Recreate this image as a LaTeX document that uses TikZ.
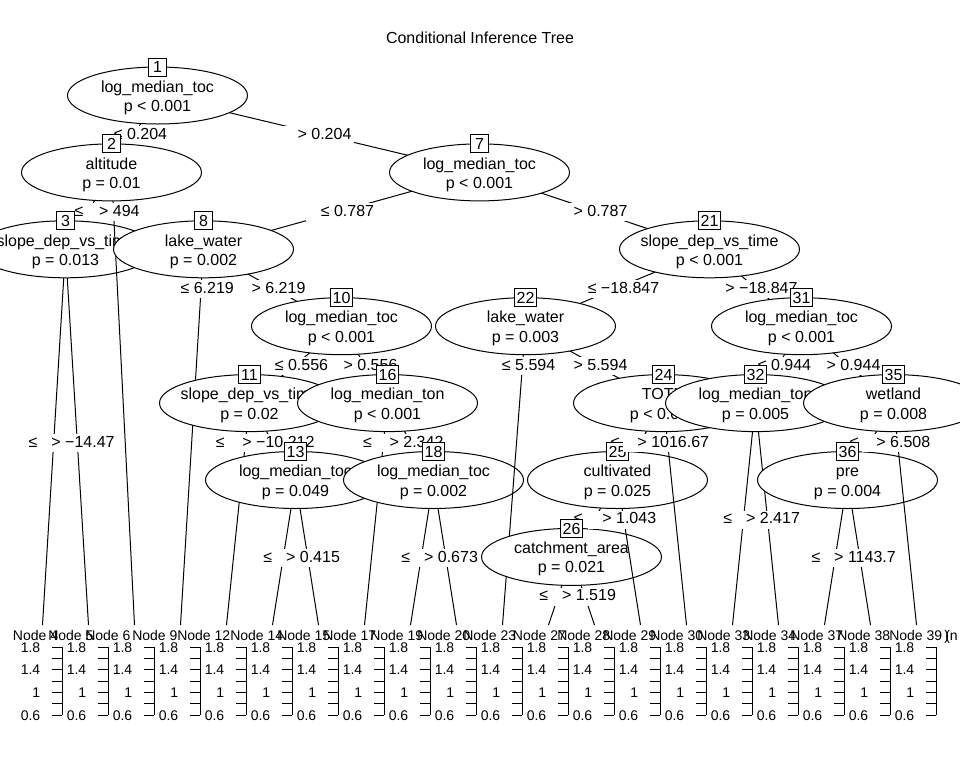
\documentclass[tikz,border=0pt]{standalone}
\usepackage{fontspec}
\setmainfont{Liberation Sans}
\usetikzlibrary{shapes.geometric}

\newcommand\mainsz{\fontsize{12}{14}\selectfont}
\newcommand\termsz{\fontsize{10.5}{12.5}\selectfont}

% inner node: name, x, y, id, split variable, p-value
\newcommand\innernode[6]{%
  \node[ell] (#1) at (#2,#3) {};
  \node[ntext] (#1v) at (#2,#3-3.3) {#5};
  \node[ntext] (#1p) at (#2,#3+16) {#6};
  \node[idbox] (#1id) at (#2,#3-28.5) {#4};
}

% split label on an edge: name, x on the edge, level y, text
\newcommand\edgelab[4]{%
  \node[elab] (#1) at (#2,#3+1.5) {\hspace*{9pt}#4};
}

% terminal panel: node id, slot centre x, heading start x
\newcommand\termpanel[3]{%
  \node[thead] (head#1) at (#3,640) {Node #1};
  \draw[axisline] (#2+19.5,647.2) -- (#2+19.5,715.3);
  \foreach \tk in {0,...,6}{\draw[axisline] (#2+9.5,715.3-11.35*\tk) -- (#2+19.5,715.3-11.35*\tk);}
  \node[tlab] (lo#1) at (#2-2,715.3) {0.6};
  \node[tlab] (mid#1) at (#2-2,692.6) {1};
  \node[tlab] (up#1) at (#2-2,669.9) {1.4};
  \node[tlab] (hi#1) at (#2-2,647.2) {1.8};
}

\begin{document}
\begin{tikzpicture}[x=0.75pt,y=-0.75pt,
  edge/.style={line width=0.75pt},
  ell/.style={draw, fill=white, ellipse, minimum width=135pt, minimum height=42.75pt, inner sep=0pt, line width=0.75pt},
  idbox/.style={draw, fill=white, font=\mainsz, inner xsep=1.9pt, inner ysep=0pt, minimum width=13.5pt, minimum height=13.5pt, text height=8.6pt, text depth=0pt, line width=0.75pt},
  ntext/.style={font=\mainsz, inner sep=0pt, anchor=base},
  elab/.style={fill=white, font=\mainsz, inner xsep=1.9pt, inner ysep=1.2pt, text height=8.6pt, text depth=2.6pt},
  thead/.style={font=\termsz, inner sep=0pt, anchor=base west},
  tlab/.style={font=\termsz, inner sep=0pt, anchor=east, text height=7.5pt, text depth=0pt},
  axisline/.style={line width=0.75pt}
]
\useasboundingbox (0,0) rectangle (960,768);
\fill[white] (0,0) rectangle (960,768);
\clip (0,0) rectangle (960,768);

\node[font=\mainsz, anchor=base] (title) at (480,43.3) {Conditional Inference Tree};

% node centres
\coordinate (c1) at (157.5,95.5);
\coordinate (c2) at (111.5,172.4);
\coordinate (c3) at (65.5,249.3);
\coordinate (c7) at (479.5,172.4);
\coordinate (c8) at (203.5,249.3);
\coordinate (c10) at (341.5,326.2);
\coordinate (c11) at (249.5,403.1);
\coordinate (c13) at (295.5,480);
\coordinate (c16) at (387.5,403.1);
\coordinate (c18) at (433.5,480);
\coordinate (c21) at (709.5,249.3);
\coordinate (c22) at (525.5,326.2);
\coordinate (c24) at (663.5,403.1);
\coordinate (c25) at (617.5,480);
\coordinate (c26) at (571.5,556.9);
\coordinate (c31) at (801.5,326.2);
\coordinate (c32) at (755.5,403.1);
\coordinate (c35) at (893.5,403.1);
\coordinate (c36) at (847.5,480);
% tops of the terminal panels
\coordinate (t4) at (42.5,625);
\coordinate (t5) at (88.5,625);
\coordinate (t6) at (134.5,625);
\coordinate (t9) at (180.5,625);
\coordinate (t12) at (226.5,625);
\coordinate (t14) at (272.5,625);
\coordinate (t15) at (318.5,625);
\coordinate (t17) at (364.5,625);
\coordinate (t19) at (410.5,625);
\coordinate (t20) at (456.5,625);
\coordinate (t23) at (502.5,625);
\coordinate (t27) at (548.5,625);
\coordinate (t28) at (594.5,625);
\coordinate (t29) at (640.5,625);
\coordinate (t30) at (686.5,625);
\coordinate (t33) at (732.5,625);
\coordinate (t34) at (778.5,625);
\coordinate (t37) at (824.5,625);
\coordinate (t38) at (870.5,625);
\coordinate (t39) at (916.5,625);

% left branch of the root
\draw[edge] (c1) -- (c2); \edgelab{e2}{134.5}{133.95}{≤ 0.204}
\draw[edge] (c2) -- (c3); \edgelab{e3}{88.5}{210.85}{≤ 494}
\draw[edge] (c3) -- (t4); \edgelab{e4}{54}{441.55}{≤ −14.47} \termpanel{4}{42.5}{12.7}
\draw[edge] (c3) -- (t5); \edgelab{e5}{77}{441.55}{> −14.47} \termpanel{5}{88.5}{48}
\innernode{n3}{65.5}{249.3}{3}{slope\_dep\_vs\_time}{p = 0.013}
\draw[edge] (c2) -- (t6); \edgelab{e6}{113.4}{210.85}{> 494} \termpanel{6}{134.5}{85}
\innernode{n2}{111.5}{172.4}{2}{altitude}{p = 0.01}

% right branch of the root
\draw[edge] (c1) -- (c7); \edgelab{e7}{318.5}{133.95}{> 0.204}
\draw[edge] (c7) -- (c8); \edgelab{e8}{341.5}{210.85}{≤ 0.787}
\draw[edge] (c8) -- (t9); \edgelab{e9}{201.2}{287.75}{≤ 6.219} \termpanel{9}{180.5}{132}
\draw[edge] (c8) -- (c10); \edgelab{e10}{272.5}{287.75}{> 6.219}
\draw[edge] (c10) -- (c11); \edgelab{e11}{295.5}{364.65}{≤ 0.556}
\draw[edge] (c11) -- (t12); \edgelab{e12}{245.7}{441.55}{≤ −10.212} \termpanel{12}{226.5}{177}
\draw[edge] (c11) -- (c13); \edgelab{e13}{272.5}{441.55}{> −10.212}
\draw[edge] (c13) -- (t14); \edgelab{e14}{284}{556.9}{≤ 0.415} \termpanel{14}{272.5}{230}
\draw[edge] (c13) -- (t15); \edgelab{e15}{307}{556.9}{> 0.415} \termpanel{15}{318.5}{277}
\innernode{n13}{295.5}{480}{13}{log\_median\_toc}{p = 0.049}
\innernode{n11}{249.5}{403.1}{11}{slope\_dep\_vs\_time}{p = 0.02}
\draw[edge] (c10) -- (c16); \edgelab{e16}{364.5}{364.65}{> 0.556}
\draw[edge] (c16) -- (t17); \edgelab{e17}{383.7}{441.55}{≤ 2.342} \termpanel{17}{364.5}{323}
\draw[edge] (c16) -- (c18); \edgelab{e18}{410.5}{441.55}{> 2.342}
\draw[edge] (c18) -- (t19); \edgelab{e19}{422}{556.9}{≤ 0.673} \termpanel{19}{410.5}{370}
\draw[edge] (c18) -- (t20); \edgelab{e20}{445}{556.9}{> 0.673} \termpanel{20}{456.5}{417}
\innernode{n18}{433.5}{480}{18}{log\_median\_toc}{p = 0.002}
\innernode{n16}{387.5}{403.1}{16}{log\_median\_ton}{p < 0.001}
\innernode{n10}{341.5}{326.2}{10}{log\_median\_toc}{p < 0.001}
\innernode{n8}{203.5}{249.3}{8}{lake\_water}{p = 0.002}

\draw[edge] (c7) -- (c21); \edgelab{e21}{594.5}{210.85}{> 0.787}
\draw[edge] (c21) -- (c22); \edgelab{e22}{617.5}{287.75}{≤ −18.847}
\draw[edge] (c22) -- (t23); \edgelab{e23}{522.6}{364.65}{≤ 5.594} \termpanel{23}{502.5}{463}
\draw[edge] (c22) -- (c24); \edgelab{e24}{594.5}{364.65}{> 5.594}
\draw[edge] (c24) -- (c25); \edgelab{e25}{640.5}{441.55}{≤ 1016.67}
\draw[edge] (c25) -- (c26); \edgelab{e26}{594.5}{518.45}{≤ 1.043}
\draw[edge] (c26) -- (t27); \edgelab{e27}{560}{595.35}{≤ 1.519} \termpanel{27}{548.5}{512.7}
\draw[edge] (c26) -- (t28); \edgelab{e28}{583}{595.35}{> 1.519} \termpanel{28}{594.5}{557}
\innernode{n26}{571.5}{556.9}{26}{catchment\_area}{p = 0.021}
\draw[edge] (c25) -- (t29); \edgelab{e29}{623.25}{518.45}{> 1.043} \termpanel{29}{640.5}{603}
\innernode{n25}{617.5}{480}{25}{cultivated}{p = 0.025}
\draw[edge] (c24) -- (t30); \edgelab{e30}{667.3}{441.55}{> 1016.67} \termpanel{30}{686.5}{650}
\innernode{n24}{663.5}{403.1}{24}{TOTN}{p < 0.001}
\innernode{n22}{525.5}{326.2}{22}{lake\_water}{p = 0.003}
\draw[edge] (c21) -- (c31); \edgelab{e31}{755.5}{287.75}{> −18.847}
\draw[edge] (c31) -- (c32); \edgelab{e32}{778.5}{364.65}{≤ 0.944}
\draw[edge] (c32) -- (t33); \edgelab{e33}{744}{518.45}{≤ 2.417} \termpanel{33}{732.5}{697}
\draw[edge] (c32) -- (t34); \edgelab{e34}{767}{518.45}{> 2.417} \termpanel{34}{778.5}{743}
\innernode{n32}{755.5}{403.1}{32}{log\_median\_ton}{p = 0.005}
\draw[edge] (c31) -- (c35); \edgelab{e35}{847.5}{364.65}{> 0.944}
\draw[edge] (c35) -- (c36); \edgelab{e36}{870.5}{441.55}{≤ 6.508}
\draw[edge] (c36) -- (t37); \edgelab{e37}{836}{556.9}{≤ 1143.7} \termpanel{37}{824.5}{790}
\draw[edge] (c36) -- (t38); \edgelab{e38}{859}{556.9}{> 1143.7} \termpanel{38}{870.5}{837}
\innernode{n36}{847.5}{480}{36}{pre}{p = 0.004}
\draw[edge] (c35) -- (t39); \edgelab{e39}{897.3}{441.55}{> 6.508} \termpanel{39}{916.5}{889}
\node[thead] (tail39) at (945,640) {(n};
\node[thead] (close38) at (944,640) {)};
\innernode{n35}{893.5}{403.1}{35}{wetland}{p = 0.008}
\innernode{n31}{801.5}{326.2}{31}{log\_median\_toc}{p < 0.001}
\innernode{n21}{709.5}{249.3}{21}{slope\_dep\_vs\_time}{p < 0.001}
\innernode{n7}{479.5}{172.4}{7}{log\_median\_toc}{p < 0.001}
\innernode{n1}{157.5}{95.5}{1}{log\_median\_toc}{p < 0.001}
\end{tikzpicture}
\end{document}
